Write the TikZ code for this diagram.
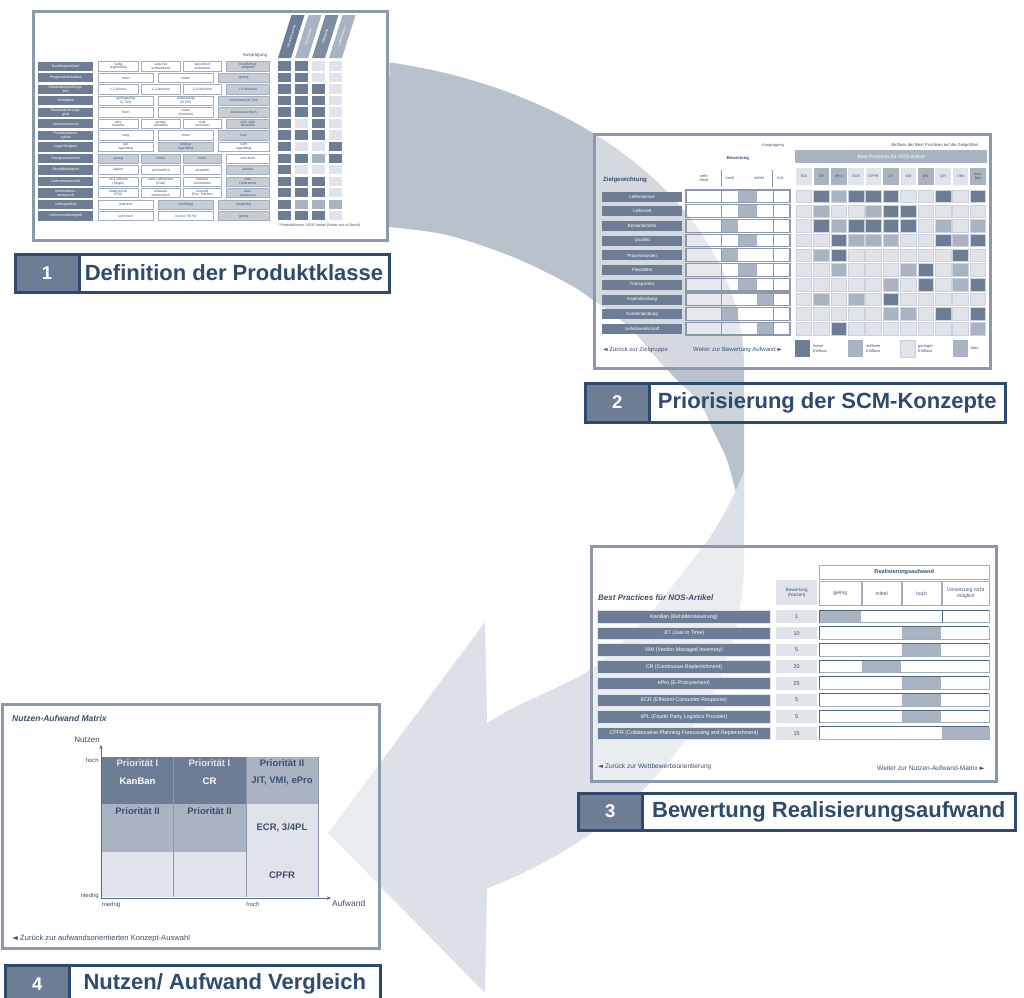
\documentclass[tikz,border=0pt]{standalone}
\usepackage{fontspec}
\setmainfont{Liberation Sans}
\newfontfamily\symf{DejaVu Sans}
\usetikzlibrary{arrows.meta}

\definecolor{bandback}{HTML}{B8C1CC}
\definecolor{bandfront}{HTML}{DCE1E7}
\definecolor{framec}{HTML}{8C99AC}
\definecolor{navy}{HTML}{2F4A6F}
\definecolor{mD}{HTML}{6E7D96}
\definecolor{mK}{HTML}{7E8CA2}
\definecolor{mM}{HTML}{A9B3C1}
\definecolor{mL}{HTML}{E0E4EA}
\definecolor{mG}{HTML}{C6CDD7}
\definecolor{ctext}{HTML}{3B4F6F}
\definecolor{cline}{HTML}{A3AEBD}

\tikzset{
  shot/.style={draw=framec, line width=3pt, fill=white, fill opacity=0.4},
  tinyt/.style={font=\fontsize{4}{4.6}\selectfont, text=ctext, inner sep=0pt, align=center},
  s1lab/.style={fill=mD, text=white, font=\fontsize{3.6}{3.9}\selectfont, minimum width=55pt, minimum height=9.3pt, inner sep=0pt, align=center},
  s1w/.style={fill=white, draw=cline, line width=0.6pt, text=ctext, font=\fontsize{3.4}{3.7}\selectfont, align=center},
  s1g/.style={fill=mG, draw=cline, line width=0.6pt, text=ctext, font=\fontsize{3.4}{3.7}\selectfont, align=center},
  navtext/.style={inner sep=0pt, text=ctext},
  s4w/.style={font=\bfseries\fontsize{9.5}{10}\selectfont, text=white, inner sep=0pt},
  s4d/.style={font=\bfseries\fontsize{9.5}{10}\selectfont, text=ctext, inner sep=0pt},
  axisline/.style={draw=ctext!85, line width=0.8pt, -{Stealth[length=4pt, width=3.5pt]}},
  nbox/.style={draw=navy, line width=3pt, fill=mD, text=white, inner sep=0pt, anchor=north west, font=\bfseries\fontsize{18.5}{20}\selectfont},
  tbox/.style={draw=navy, line width=3pt, fill=white, fill opacity=0.3, text opacity=1, text=navy, inner sep=0pt, anchor=north west, font=\bfseries\fontsize{22}{24}\selectfont},
}

% first screen: one table row label
\newcommand\sRow[2]{%
  \pgfmathsetmacro\yy{61.3+11.53*#1}%
  \node[s1lab, anchor=north west] (s1r#1) at (38,\yy) {#2};}
% first screen: one characteristic cell
\newcommand\sCell[5]{%
  \pgfmathsetmacro\yy{61.3+11.53*#1}%
  \node[#4, anchor=north west, minimum width={#3-#2}, minimum height=9.3, inner sep=0pt] (s1c#1x#2) at (#2,\yy) {#5};}
\newcommand\sFour[9]{%
  \sCell{#1}{98}{138}{#2}{#3}\sCell{#1}{141}{180}{#4}{#5}%
  \sCell{#1}{183}{221}{#6}{#7}\sCell{#1}{226}{269}{#8}{#9}}
\newcommand\sThree[7]{%
  \sCell{#1}{98}{153}{#2}{#3}\sCell{#1}{158}{213}{#4}{#5}\sCell{#1}{218}{269}{#6}{#7}}
% first screen: four matrix squares of a row
\newcommand\sMat[5]{%
  \pgfmathsetmacro\yy{61.3+11.53*#1}%
  \fill[#2] (278,\yy) rectangle ++(13,9.3);
  \fill[#3] (295,\yy) rectangle ++(13,9.3);
  \fill[#4] (312,\yy) rectangle ++(13,9.3);
  \fill[#5] (329,\yy) rectangle ++(13,9.3);}

\begin{document}
\begin{tikzpicture}[x=1pt,y=-1pt]
\useasboundingbox (0,0) rectangle (1024,997);

% ---------- cycle arrow: rear ribbon ----------
\fill[bandback] plot[domain=-78.4:0, samples=60, variable=\aa] ({300+444*cos(\aa)},{366+310*sin(\aa)})
  -- (744,515)
  -- plot[smooth, tension=0.55] coordinates {(744,515) (736,492) (727,460) (713,430) (700,403) (680,383) (660,362) (630,328) (593,300) (567,283) (513,257) (447,235) (389,227)}
  -- cycle;
% ---------- cycle arrow: front ribbon with head ----------
\fill[bandfront] (487,723) -- (485,622) -- (328,833) -- (485,993) -- (487,888)
  -- plot[domain=0:65.1, samples=60, variable=\aa] ({300+444*cos(65.1-\aa)},{560+362*sin(65.1-\aa)})
  -- (744,472)
  -- plot[smooth, tension=0.55] coordinates {(744,472) (737,488) (725,512) (708,540) (683,572) (655,608) (622,642) (590,670) (547,692) (513,708) (487,723)}
  -- cycle;

% ================= screen 1: product class =================
\draw[shot] (33.5,11.5) rectangle (387.5,240.5);
\foreach \k/\cc/\tx in {0/mD/Variantenvielfalt,1/mM/Saisonalität,2/mK/Wertigkeit,3/mM/Lebenszyklus}{
  \fill[\cc] ({278+17*\k},58) -- ({291+17*\k},58) -- ({304.5+17*\k},15) -- ({291.5+17*\k},15) -- cycle;
  \node[rotate=73, font=\fontsize{3.4}{3.6}\selectfont, text=white, inner sep=0pt] (s1h\k) at ({291.2+17*\k},36.5) {\tx};
}
\node[tinyt, font=\fontsize{4.5}{5}\selectfont] (s1aus) at (255,55) {Ausprägung};

\sRow{0}{Nachfrageverlauf}
\sRow{1}{Prognostizierbarkeit}
\sRow{2}{Wiederbeschaffungs-\\zeit}
\sRow{3}{Wertigkeit}
\sRow{4}{Standardisierungs-\\grad}
\sRow{5}{Variantenanzahl}
\sRow{6}{Produktlebens-\\zyklus}
\sRow{7}{Lagerfähigkeit}
\sRow{8}{Transportvolumen}
\sRow{9}{Bestellhäufigkeit}
\sRow{10}{Lieferantenanzahl}
\sRow{11}{Informations-\\austausch}
\sRow{12}{Verfügbarkeit}
\sRow{13}{Lieferzuverlässigkeit}

\sFour{0}{s1w}{stetig\\regelmäßig}{s1w}{saisonal\\schwankend}{s1w}{sporadisch\\auftretend}{s1g}{trendförmig\\steigend}
\sThree{1}{s1w}{hoch}{s1w}{mittel}{s1g}{gering}
\sFour{2}{s1w}{< 1 Woche}{s1w}{1--2 Wochen}{s1w}{2--4 Wochen}{s1g}{> 4 Wochen}
\sThree{3}{s1w}{geringwertig\\(C-Teil)}{s1w}{mittelwertig\\(B-Teil)}{s1g}{hochwertig (A-Teil)}
\sThree{4}{s1w}{hoch}{s1w}{mittel\\(modular)}{s1g}{kundenspezifisch}
\sFour{5}{s1w}{eine\\Variante}{s1w}{wenige\\Varianten}{s1w}{viele\\Varianten}{s1g}{sehr viele\\Varianten}
\sThree{6}{s1w}{lang}{s1w}{mittel}{s1g}{kurz}
\sThree{7}{s1w}{gut\\lagerfähig}{s1g}{bedingt\\lagerfähig}{s1w}{nicht\\lagerfähig}
\sFour{8}{s1g}{gering}{s1g}{mittel}{s1g}{hoch}{s1w}{sehr hoch}
\sFour{9}{s1w}{täglich}{s1w}{wöchentlich}{s1w}{monatlich}{s1g}{jährlich}
\sFour{10}{s1w}{ein Lieferant\\(Single)}{s1w}{zwei Lieferanten\\(Dual)}{s1w}{mehrere\\Lieferanten}{s1g}{viele\\Lieferanten}
\sFour{11}{s1w}{elektronisch\\(EDI)}{s1w}{teilweise\\elektronisch}{s1w}{manuell\\(Fax, Telefon)}{s1g}{kein\\Austausch}
\sThree{12}{s1w}{jederzeit}{s1g}{kurzfristig}{s1g}{langfristig}
\sThree{13}{s1w}{sehr hoch}{s1w}{hoch (> 95\,\%)}{s1g}{gering}

\sMat{0}{mD}{mD}{mL}{mL}
\sMat{1}{mD}{mD}{mL}{mL}
\sMat{2}{mD}{mD}{mD}{mL}
\sMat{3}{mD}{mD}{mD}{mL}
\sMat{4}{mD}{mD}{mD}{mL}
\sMat{5}{mD}{mL}{mD}{mL}
\sMat{6}{mD}{mD}{mD}{mL}
\sMat{7}{mD}{mL}{mL}{mD}
\sMat{8}{mD}{mD}{mM}{mD}
\sMat{9}{mD}{mL}{mL}{mL}
\sMat{10}{mD}{mD}{mD}{mL}
\sMat{11}{mD}{mD}{mD}{mL}
\sMat{12}{mD}{mM}{mM}{mM}
\sMat{13}{mD}{mD}{mD}{mL}
\node[tinyt, anchor=west, font=\fontsize{3.7}{4}\selectfont] (s1note) at (278,226) {* Produktklasse: NOS-Artikel (Never-out-of-Stock)};

% ================= screen 2: concept priorities =================
\draw[shot] (594.5,134.5) rectangle (990.5,368.5);
\node[tinyt] (s2a) at (773,146) {Ausprägung};
\node[tinyt, font=\bfseries\fontsize{4.3}{5}\selectfont] (s2b) at (738,158) {Bewertung};
\node[tinyt, font=\fontsize{4.3}{5}\selectfont] (s2c) at (935,145) {Einfluss der Best Practices auf die Zielgrößen};
\node[fill=mM, minimum width=192pt, minimum height=13pt, inner sep=0pt, anchor=north west, font=\fontsize{5}{5.5}\selectfont, text=white] (s2hb) at (795,150) {Best Practices für NOS-Artikel};
\foreach \cc/\tx [count=\k from 0] in {L/EDI,M/CR,M/ePro,L/ECR,L/CPFR,M/JIT,L/CM,M/4PL,L/QR,L/VMI,M/Kan-\\Ban}{
  \node[fill=m\cc, minimum width=15.5pt, minimum height=17pt, inner sep=0pt, anchor=north west, tinyt, font=\fontsize{3.6}{4}\selectfont] (s2k\k) at ({796+17.4*\k},168) {\tx};
}
\node[anchor=west, inner sep=0pt, font=\bfseries\fontsize{6}{6}\selectfont, text=ctext] (s2z) at (603,180) {Zielgewichtung};
\node[tinyt] (s2u1) at (704,178) {sehr\\hoch};
\node[tinyt] (s2u2) at (730,178) {hoch};
\node[tinyt] (s2u3) at (759,178) {mittel};
\node[tinyt] (s2u4) at (781,178) {k.A.};
\draw[framec, line width=0.6pt] (721.7,170) -- (721.7,187) (772.7,170) -- (772.7,187);

\foreach \tx/\xa/\xb [count=\r from 0] in {Lieferservice/738/756.7, Lieferzeit/738/756.7, Bestandshöhe/721.7/738, Qualität/738/756.7, Prozesskosten/721.7/738, Flexibilität/738/756.7, Transparenz/738/756.7, Kapitalbindung/756.7/772.7, Kundenbindung/721.7/738, Lieferbereitschaft/756.7/772.7}{
  \pgfmathsetmacro\yy{190+14.7*\r}
  \node[fill=mD, text=white, minimum width=80pt, minimum height=10pt, inner sep=0pt, anchor=north west, font=\fontsize{4.5}{5}\selectfont] (s2r\r) at (602,\yy+1.4) {\tx};
  \draw[draw=framec, line width=1.2pt, fill=white, fill opacity=0.4] (686,\yy) rectangle (790,\yy+12.7);
  \fill[mM] (\xa,\yy+0.6) rectangle (\xb,\yy+12.1);
  \draw[framec, line width=0.7pt] (721,\yy) -- (721,\yy+12.7) (773.5,\yy) -- (773.5,\yy+12.7);
}
\foreach \row [count=\r from 0] in {
  {L,D,M,D,D,D,L,L,D,L,D},
  {L,M,L,L,M,D,D,L,L,L,L},
  {L,D,M,D,D,D,D,L,M,L,M},
  {L,L,D,M,M,M,L,L,D,M,D},
  {L,M,D,L,L,L,L,L,L,D,L},
  {L,L,M,L,L,L,M,D,L,M,L},
  {L,L,L,L,L,M,L,D,L,M,D},
  {L,M,L,M,L,D,L,L,L,L,L},
  {L,L,L,L,L,M,M,L,D,L,D},
  {L,L,D,L,L,L,L,L,L,L,M}}{
  \foreach \cc [count=\k from 0] in \row {
    \filldraw[fill=m\cc, draw=cline!55, line width=0.4pt] ({796+17.4*\k},{190+14.7*\r}) rectangle ++(15.5,12.5);
  }
}
\fill[mD] (795,340) rectangle ++(15,17);
\node[tinyt, anchor=west, align=left] (s2l1) at (813,348.5) {hoher\\Einfluss};
\fill[mM] (848,340) rectangle ++(15,17);
\node[tinyt, anchor=west, align=left] (s2l2) at (866,348.5) {mittlerer\\Einfluss};
\filldraw[fill=mL, draw=cline!60, line width=0.4pt] (900,340) rectangle ++(15,17);
\node[tinyt, anchor=west, align=left] (s2l3) at (918,348.5) {geringer\\Einfluss};
\fill[mM] (953,340) rectangle ++(15,17);
\node[tinyt, anchor=west, align=left] (s2l4) at (971,348.5) {kein};
\node[navtext, anchor=west, font=\fontsize{6}{6}\selectfont] (s2back) at (603,350) {{\symf ◄} Zurück zur Zielgruppe};
\node[navtext, anchor=west, font=\fontsize{6}{6}\selectfont] (s2next) at (693,350) {Weiter zur Bewertung Aufwand {\symf ►}};

% ================= screen 3: realisation effort =================
\draw[shot] (591.5,546.5) rectangle (996.5,781.5);
\node[anchor=west, inner sep=0pt, font=\bfseries\itshape\fontsize{8}{8}\selectfont, text=ctext] (s3t) at (598,598) {Best Practices für NOS-Artikel};
\node[fill=mL, minimum width=41pt, minimum height=25pt, inner sep=0pt, anchor=north west, tinyt, font=\fontsize{4.6}{5.4}\selectfont] (s3bw) at (776,580) {Bewertung\\(Nutzen)};
\node[draw=cline, fill=white, minimum width=170pt, minimum height=14pt, anchor=north west, inner sep=0pt, font=\bfseries\fontsize{5.6}{6}\selectfont, text=ctext] (s3ra) at (819,565) {Realisierungsaufwand};
\foreach \xa/\xb/\tx in {819/861/gering, 862/901/mittel, 902/941/hoch, 942/989/{Umsetzung nicht\\möglich}}{
  \node[draw=cline, fill=white, minimum width={\xb-\xa}, minimum height=24pt, anchor=north west, inner sep=0pt, align=center, font=\fontsize{5}{5.8}\selectfont, text=ctext] (s3h\xa) at (\xa,581) {\tx};
}
\foreach \tx/\val/\xa/\xb [count=\r from 0] in {KanBan (Behältersteuerung)/1/819/861, JIT (Just in Time)/10/902/941, VMI (Vendor Managed Inventory)/5/902/941, CR (Continuous Replenishment)/20/862/901, ePro (E-Procurement)/25/902/941, ECR (Efficient Consumer Response)/5/902/941, 4PL (Fourth Party Logistics Provider)/5/902/941, CPFR (Collaborative Planning Forecasting and Replenishment)/15/942/989}{
  \pgfmathsetmacro\yy{610+16.7*\r}
  \node[fill=mD, draw=mL, line width=0.8pt, text=white, minimum width=173pt, minimum height=12.5pt, inner sep=0pt, anchor=north west, font=\fontsize{5.3}{6}\selectfont] (s3r\r) at (597,\yy) {\tx};
  \node[fill=mL, minimum width=41pt, minimum height=12.5pt, inner sep=0pt, anchor=north west, font=\fontsize{5.5}{6}\selectfont, text=ctext] (s3v\r) at (776,\yy) {\val};
  \fill[white] (819,\yy) rectangle (989,\yy+12.5);
  \fill[mM] (\xa,\yy) rectangle (\xb,\yy+12.5);
  \draw[cline, line width=0.6pt] (989,\yy) -- (989,\yy+12.5) -- (819,\yy+12.5);
  \draw[navy!85, line width=0.9pt] (819,\yy+12.5) -- (819,\yy) -- (989,\yy);
}
\draw[navy!85, line width=0.9pt] (942,610) -- (942,622.5);
\node[navtext, anchor=west, font=\fontsize{6.6}{7}\selectfont] (s3back) at (598,767) {{\symf ◄} Zurück zur Wettbewerbsorientierung};
\node[navtext, anchor=east, font=\fontsize{6.6}{7}\selectfont] (s3next) at (985,768) {Weiter zur Nutzen-Aufwand-Matrix {\symf ►}};

% ================= screen 4: benefit/effort matrix =================
\draw[shot] (2.5,704.5) rectangle (379.5,948.5);
\node[anchor=west, inner sep=0pt, font=\bfseries\itshape\fontsize{8.5}{9}\selectfont, text=ctext] (s4t) at (12,718) {Nutzen-Aufwand Matrix};
\fill[mD] (102,757) rectangle (173,804);
\fill[mD] (173,757) rectangle (246,804);
\fill[mM] (246,757) rectangle (318,804);
\fill[mM] (102,804) rectangle (173,852);
\fill[mM] (173,804) rectangle (246,852);
\fill[mL] (102,852) rectangle (173,897);
\fill[mL] (173,852) rectangle (246,897);
\fill[mL] (246,804) rectangle (318,897);
\draw[framec, line width=1pt] (173,757) -- (173,897) (246,757) -- (246,897) (318,757) -- (318,897);
\coordinate (org) at (101,898);
\coordinate (ytip) at (101,745);
\coordinate (xtip) at (331,898);
\draw[axisline] (org) -- (ytip);
\draw[axisline] (org) -- (xtip);
\node[s4w, text=mL] (p11) at (137.5,763) {Priorität I};
\node[s4w] (k11) at (137.5,781) {KanBan};
\node[s4w, text=mL] (p12) at (209.5,763) {Priorität I};
\node[s4w] (k12) at (209.5,781) {CR};
\node[s4d] (p13) at (282,763) {Priorität II};
\node[s4d] (k13) at (282,781) {JIT, VMI, ePro};
\node[s4d] (p21) at (137.5,811) {Priorität II};
\node[s4d] (p22) at (209.5,811) {Priorität II};
\node[s4d] (k23) at (282,828) {ECR, 3/4PL};
\node[s4d] (k33) at (282,875) {CPFR};
\node[navtext, anchor=east, font=\fontsize{6}{6}\selectfont] (yh) at (99,760) {hoch};
\node[navtext, anchor=east, font=\fontsize{6}{6}\selectfont] (yl) at (99,896) {niedrig};
\node[navtext, anchor=north west, font=\fontsize{6}{6}\selectfont] (xl) at (102,902) {niedrig};
\node[navtext, anchor=north, font=\fontsize{6}{6}\selectfont] (xh) at (253,902) {hoch};
\node[navtext, anchor=west, font=\fontsize{8.5}{9}\selectfont] (xa) at (332,903) {Aufwand};
\node[navtext, anchor=east, font=\fontsize{8}{9}\selectfont] (yn) at (100,740) {Nutzen};
\node[navtext, anchor=west, font=\fontsize{7.6}{8}\selectfont] (s4back) at (12,939) {{\symf ◄} Zurück zur aufwandsorientierten Konzept-Auswahl};

% ================= step labels =================
\node[tbox, minimum width=310pt, minimum height=38pt] (t1) at (77.5,252.5) {Definition der Produktklasse};
\node[nbox, minimum width=64pt, minimum height=38pt] (n1) at (13.5,252.5) {1};
\node[tbox, minimum width=355.5pt, minimum height=39pt] (t2) at (648,381.5) {Priorisierung der SCM-Konzepte};
\node[nbox, minimum width=64.5pt, minimum height=39pt] (n2) at (583.5,381.5) {2};
\node[tbox, minimum width=372.5pt, minimum height=37pt] (t3) at (641,791.5) {Bewertung Realisierungsaufwand};
\node[nbox, minimum width=64.5pt, minimum height=37pt] (n3) at (576.5,791.5) {3};
\node[tbox, minimum width=310.5pt, minimum height=38pt] (t4) at (68,963.5) {Nutzen/ Aufwand Vergleich};
\node[nbox, minimum width=64.5pt, minimum height=38pt] (n4) at (3.5,963.5) {4};
\end{tikzpicture}
\end{document}
